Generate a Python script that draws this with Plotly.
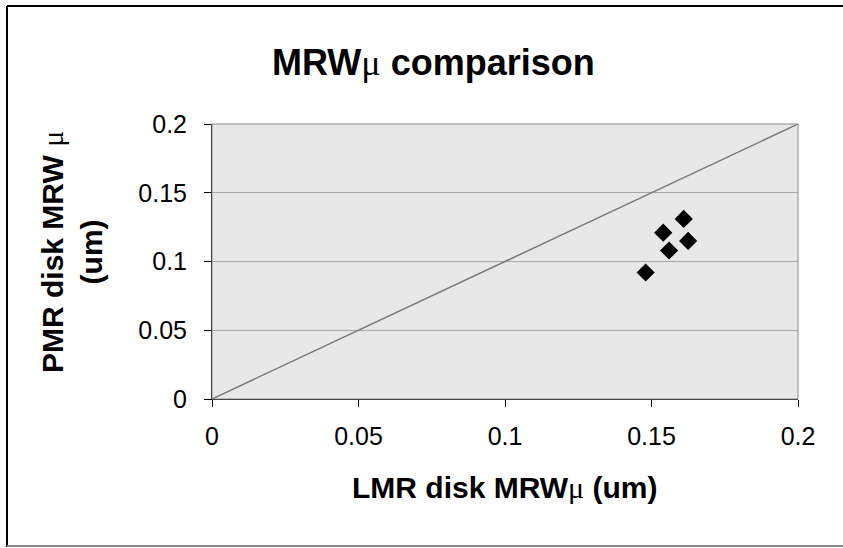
import plotly.graph_objects as go

lmr_x = [0.148, 0.154, 0.156, 0.161, 0.1625]
pmr_y = [0.092, 0.121, 0.108, 0.131, 0.115]
ref_x = [0, 0.2]
ref_y = [0, 0.2]
ticks = [0, 0.05, 0.1, 0.15, 0.2]
tick_text = ["0", "0.05", "0.1", "0.15", "0.2"]

W, H = 843, 548
L, R, T, B = 212, 45, 124, 149
pw, ph = W - L - R, H - T - B

def px(x):
    return (x - L) / pw

def py(y):
    return (H - B - y) / ph

MU = "<span style='font-family:Liberation Serif, Times New Roman, serif;font-weight:normal'>μ</span>"

fig = go.Figure()
fig.add_trace(go.Scatter(x=ref_x, y=ref_y, mode="lines",
                         line=dict(color="#7a7a7a", width=1.5), showlegend=False))
fig.add_trace(go.Scatter(x=lmr_x, y=pmr_y, mode="markers",
                         marker=dict(symbol="diamond", size=14, color="black"),
                         showlegend=False))

fig.update_layout(
    width=W, height=H,
    margin=dict(l=L, r=R, t=T, b=B),
    paper_bgcolor="white",
    plot_bgcolor="#e8e8e8",
    font=dict(family="Arial, Liberation Sans, sans-serif", color="black"),
    xaxis=dict(range=[0, 0.2], tickvals=ticks, ticktext=tick_text,
               showgrid=False, zeroline=False, showline=True, linecolor="black",
               linewidth=1, ticks="outside", ticklen=7,
               tickcolor="black", tickfont=dict(size=25), ticklabelstandoff=8),
    yaxis=dict(range=[0, 0.2], tickvals=ticks, ticktext=tick_text,
               showgrid=True, gridcolor="#a8a8a8", gridwidth=1, zeroline=False,
               showline=True, linecolor="black", linewidth=1,
               ticks="outside", ticklen=7, tickcolor="black",
               tickfont=dict(size=25), ticklabelstandoff=12),
    shapes=[
        dict(type="rect", xref="paper", yref="paper", x0=0, y0=0, x1=1, y1=1,
             line=dict(color="#8a8a8a", width=1), fillcolor="rgba(0,0,0,0)", layer="above"),
        dict(type="line", xref="paper", yref="paper",
             x0=px(7), x1=px(843), y0=py(6), y1=py(6),
             line=dict(color="black", width=2)),
        dict(type="line", xref="paper", yref="paper",
             x0=px(7), x1=px(7), y0=py(6), y1=py(547),
             line=dict(color="black", width=2)),
        dict(type="line", xref="paper", yref="paper",
             x0=px(7), x1=px(843), y0=py(546), y1=py(546),
             line=dict(color="#8c8c8c", width=2)),
    ],
    annotations=[
        dict(text="<b>MRW</b>" + MU + "<b> comparison</b>",
             xref="paper", yref="paper", x=px(433), y=py(63),
             xanchor="center", yanchor="middle",
             showarrow=False, font=dict(size=36)),
        dict(text="<b>LMR disk MRW</b>" + MU + "<b> (um)</b>",
             xref="paper", yref="paper", x=px(505), y=py(487),
             xanchor="center", yanchor="middle",
             showarrow=False, font=dict(size=30)),
        dict(text="<b>PMR disk MRW </b>" + MU + "<br><b>(um)</b>",
             xref="paper", yref="paper", x=px(72), y=py(252), textangle=-90,
             xanchor="center", yanchor="middle",
             showarrow=False, font=dict(size=30)),
    ],
)

fig.write_html("out.html", config={"displayModeBar": False},
               post_script="document.body.style.margin='0';")
